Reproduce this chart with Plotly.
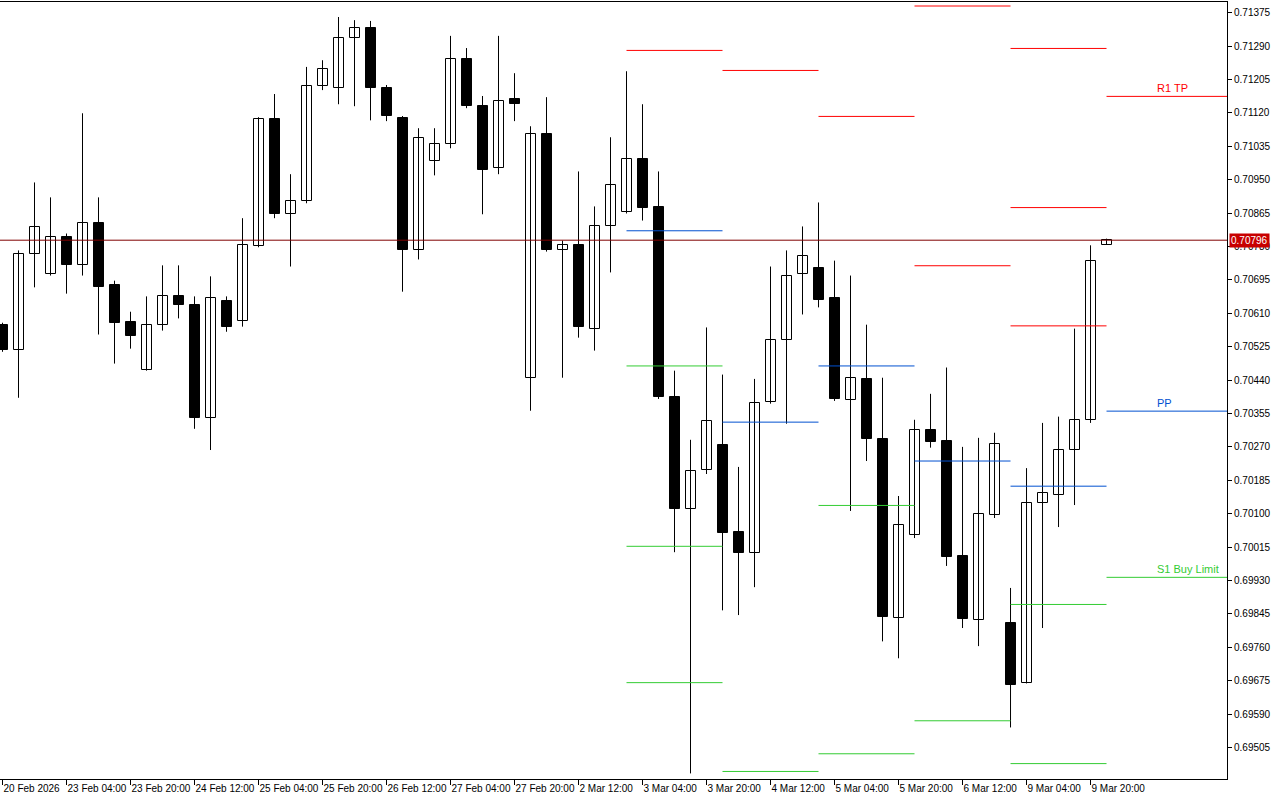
import plotly.graph_objects as go

# ---- H4 candles (20 Feb 2026 12:00 -> 10 Mar 2026 00:00) ----
opens = [0.70581, 0.70517, 0.70762, 0.70711, 0.70803, 0.70732, 0.70839, 0.70681, 0.70589, 0.70466,
         0.70579, 0.70653, 0.70630, 0.70344, 0.70642, 0.70591, 0.70780, 0.71104, 0.70862, 0.70895,
         0.71188, 0.71183, 0.71310, 0.71336, 0.71183, 0.71107, 0.70770, 0.70997, 0.71040, 0.71257,
         0.71137, 0.70979, 0.71155, 0.70446, 0.71066, 0.70772, 0.70783, 0.70571, 0.70831, 0.70869,
         0.71002, 0.70880, 0.70398, 0.70112, 0.70211, 0.70275, 0.70053, 0.70000, 0.70385, 0.70543,
         0.70709, 0.70724, 0.70648, 0.70390, 0.70443, 0.70290, 0.69834, 0.70046, 0.70313, 0.70285,
         0.69992, 0.69829, 0.70097, 0.69821, 0.69668, 0.70127, 0.70148, 0.70262, 0.70339, 0.70785]
highs = [0.70586, 0.70770, 0.70943, 0.70905, 0.70813, 0.71119, 0.70905, 0.70693, 0.70614, 0.70653,
         0.70732, 0.70732, 0.70653, 0.70704, 0.70653, 0.70852, 0.71109, 0.71168, 0.70964, 0.71237,
         0.71254, 0.71364, 0.71356, 0.71354, 0.71191, 0.71112, 0.71081, 0.71081, 0.71316, 0.71285,
         0.71163, 0.71316, 0.71221, 0.71086, 0.71160, 0.70795, 0.70971, 0.70882, 0.71058, 0.71226,
         0.71142, 0.70971, 0.70464, 0.70288, 0.70574, 0.70454, 0.70219, 0.70443, 0.70729, 0.70770,
         0.70831, 0.70892, 0.70744, 0.70706, 0.70581, 0.70446, 0.70145, 0.70339, 0.70405, 0.70472,
         0.70270, 0.70293, 0.70306, 0.69911, 0.70216, 0.70331, 0.70347, 0.70571, 0.70783, 0.70800]
lows = [0.70512, 0.70395, 0.70676, 0.70706, 0.70660, 0.70706, 0.70556, 0.70482, 0.70520, 0.70464,
        0.70566, 0.70597, 0.70316, 0.70262, 0.70563, 0.70576, 0.70778, 0.70852, 0.70729, 0.70890,
        0.71178, 0.71142, 0.71137, 0.71101, 0.71099, 0.70665, 0.70747, 0.70961, 0.71030, 0.71132,
        0.70862, 0.70964, 0.71099, 0.70362, 0.70767, 0.70446, 0.70548, 0.70515, 0.70714, 0.70864,
        0.70846, 0.70392, 0.70002, 0.69439, 0.70201, 0.69854, 0.69842, 0.69913, 0.70380, 0.70329,
        0.70607, 0.70625, 0.70387, 0.70107, 0.70234, 0.69775, 0.69732, 0.70038, 0.70268, 0.69967,
        0.69809, 0.69763, 0.70089, 0.69556, 0.69668, 0.69809, 0.70066, 0.70122, 0.70331, 0.70785]
closes = [0.70517, 0.70762, 0.70829, 0.70803, 0.70732, 0.70839, 0.70678, 0.70586, 0.70551, 0.70579,
          0.70653, 0.70630, 0.70344, 0.70648, 0.70574, 0.70783, 0.71104, 0.70862, 0.70895, 0.71188,
          0.71231, 0.71310, 0.71336, 0.71183, 0.71112, 0.70770, 0.71056, 0.71040, 0.71257, 0.71137,
          0.70974, 0.71150, 0.71142, 0.71066, 0.70772, 0.70783, 0.70574, 0.70831, 0.70936, 0.71002,
          0.70877, 0.70398, 0.70112, 0.70209, 0.70336, 0.70051, 0.70000, 0.70382, 0.70543, 0.70706,
          0.70755, 0.70645, 0.70392, 0.70446, 0.70290, 0.69837, 0.70071, 0.70313, 0.70283, 0.69990,
          0.69831, 0.70099, 0.70278, 0.69663, 0.70127, 0.70153, 0.70262, 0.70339, 0.70742, 0.70796]

# ---- time axis labels (every 4th H4 bar) ----
tick_bars = [0, 4, 8, 12, 16, 20, 24, 28, 32, 36, 40, 44, 48, 52, 56, 60, 64, 68]
tick_labels = ["20 Feb 2026", "23 Feb 04:00", "23 Feb 20:00", "24 Feb 12:00", "25 Feb 04:00",
               "25 Feb 20:00", "26 Feb 12:00", "27 Feb 04:00", "27 Feb 20:00", "2 Mar 12:00",
               "3 Mar 04:00", "3 Mar 20:00", "4 Mar 12:00", "5 Mar 04:00", "5 Mar 20:00",
               "6 Mar 12:00", "9 Mar 04:00", "9 Mar 20:00"]

# ---- price axis ----
price_ticks = [0.71375, 0.71290, 0.71205, 0.71120, 0.71035, 0.70950, 0.70865, 0.70780, 0.70695,
               0.70610, 0.70525, 0.70440, 0.70355, 0.70270, 0.70185, 0.70100, 0.70015, 0.69930,
               0.69845, 0.69760, 0.69675, 0.69590, 0.69505]
current_price = 0.70796

# ---- daily pivot levels ----
pivot_days = ["3 Mar", "4 Mar", "5 Mar", "6 Mar", "9 Mar", "10 Mar"]
pivot_start = [39, 45, 51, 57, 63, 69]
pivot_end = [45, 51, 57, 63, 69, 90]
res_levels = [[0.71279], [0.71228], [0.71111], [0.71392, 0.70731], [0.71284, 0.70879, 0.70578], [0.71162]]
pp_levels = [0.70820, 0.70333, 0.70476, 0.70234, 0.70170, 0.70361]
sup_levels = [[0.70476, 0.70017, 0.69670], [0.69444], [0.70121, 0.69489], [0.69573], [0.69869, 0.69464], [0.69938]]
level_labels = {"R1 TP": 0.71162, "PP": 0.70361, "S1 Buy Limit": 0.69938}

RED = "#ff0000"
BLUE = "#0050d0"
GREEN = "#33cc33"

fig = go.Figure()

n = len(opens)
idx = list(range(n))

# wicks
wx, wy = [], []
for i in idx:
    wx += [i, i, None]
    wy += [lows[i], highs[i], None]
fig.add_trace(go.Scatter(x=wx, y=wy, mode="lines", line=dict(color="black", width=1),
                         hoverinfo="skip", showlegend=False))

# bodies
bull = [i for i in idx if closes[i] >= opens[i]]
bear = [i for i in idx if closes[i] < opens[i]]
fig.add_trace(go.Bar(x=bull, base=[opens[i] for i in bull],
                     y=[max(closes[i] - opens[i], 0.000005) for i in bull],
                     width=0.625, marker=dict(color="white", line=dict(color="black", width=1)),
                     showlegend=False))
fig.add_trace(go.Bar(x=bear, base=[closes[i] for i in bear],
                     y=[opens[i] - closes[i] for i in bear],
                     width=0.625, marker=dict(color="black", line=dict(color="black", width=1)),
                     showlegend=False))

# pivot lines
def seg_trace(levels_per_day, color):
    xs, ys = [], []
    for d, lv in enumerate(levels_per_day):
        if not isinstance(lv, list):
            lv = [lv]
        for v in lv:
            xs += [pivot_start[d], pivot_end[d], None]
            ys += [v, v, None]
    return go.Scatter(x=xs, y=ys, mode="lines", line=dict(color=color, width=1),
                      hoverinfo="skip", showlegend=False)

fig.add_trace(seg_trace(res_levels, RED))
fig.add_trace(seg_trace(pp_levels, BLUE))
fig.add_trace(seg_trace(sup_levels, GREEN))

# current price line
fig.add_trace(go.Scatter(x=[-5, 90], y=[current_price, current_price], mode="lines",
                         line=dict(color="#800000", width=1), hoverinfo="skip", showlegend=False))

label_colors = {"R1 TP": RED, "PP": BLUE, "S1 Buy Limit": GREEN}
for txt, lvl in level_labels.items():
    fig.add_annotation(x=72, y=lvl, xref="x", yref="y", text=txt, showarrow=False,
                       xanchor="left", yanchor="bottom", yshift=0,
                       font=dict(family="Liberation Sans", size=11, color=label_colors[txt]))

fig.add_annotation(x=1, y=current_price, xref="paper", yref="y", text="0.70796", showarrow=False,
                   xanchor="left", yanchor="middle", xshift=2, bgcolor="#c80000", borderpad=1,
                   font=dict(family="Liberation Sans", size=10, color="white"))

fig.update_layout(
    width=1280, height=800,
    margin=dict(l=0, r=53, t=2, b=21, autoexpand=False),
    paper_bgcolor="white", plot_bgcolor="white",
    barmode="overlay", bargap=0,
    showlegend=False,
    font=dict(family="Liberation Sans", size=10, color="black"),
    xaxis=dict(range=[-0.15625, 76.53], tickvals=tick_bars, ticktext=tick_labels,
               showgrid=False, zeroline=False, showline=True, mirror=True, linecolor="black",
               linewidth=1, ticks="outside", ticklen=5, tickcolor="black", tickangle=0,
               ticklabelposition="outside right", tickfont=dict(size=10),
               fixedrange=True),
    yaxis=dict(range=[0.694248, 0.714022], side="right", tickvals=price_ticks,
               tickformat=".5f", showgrid=False, zeroline=False, showline=True, mirror=True,
               linecolor="black", linewidth=1, ticks="outside", ticklen=4, tickcolor="black",
               tickfont=dict(size=10), fixedrange=True),
)

fig.write_html("out.html", config={"displayModeBar": False},
               post_script="document.body.style.margin='0';document.body.style.overflow='hidden';")
